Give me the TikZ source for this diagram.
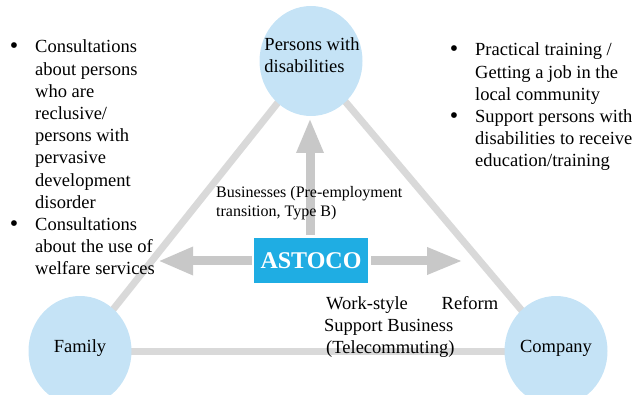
\documentclass[tikz,border=0pt]{standalone}
\usepackage{fontspec}
\setmainfont{Liberation Serif}
\usetikzlibrary{arrows.meta,shapes.geometric,backgrounds}
\definecolor{circfill}{HTML}{C5E3F6}
\definecolor{triline}{HTML}{D9D9D9}
\definecolor{arrgray}{HTML}{C8C8C8}
\definecolor{boxblue}{HTML}{1FADE3}
\begin{document}
\begin{tikzpicture}[x=1pt,y=-1pt,
  party/.style={ellipse,fill=circfill,minimum width=103pt,minimum height=110pt,inner sep=0pt},
  partytxt/.style={inner sep=0pt,font=\fontsize{18.5}{22.2}\selectfont,align=left},
  triedge/.style={draw=triline,line width=7pt},
  bigarrow/.style={draw=arrgray,line width=9pt},
  txt/.style={anchor=base west,inner sep=0pt,font=\fontsize{18.5}{22.2}\selectfont},
  smalltxt/.style={anchor=base west,inner sep=0pt,font=\fontsize{16}{19}\selectfont},
  bul/.style={anchor=base,inner sep=0pt,font=\fontsize{24}{22}\selectfont}]
\useasboundingbox (0,0) rectangle (634,395);

% parties
\node[party] (pwd) at (311,61) {};
\node[party] (fam) at (80,351) {};
\node[party] (com) at (556,351) {};
\node[partytxt] (pwdt) at (312,55) {Persons with\\disabilities};
\node[partytxt] (famt) at (80,348) {Family};
\node[partytxt] (comt) at (556,348) {Company};

\begin{scope}[on background layer]
\draw[triedge] (pwd.center) -- (fam.center);
\draw[triedge] (pwd.center) -- (com.center);
\draw[triedge] (fam.center) -- (com.center);
\end{scope}

% ASTOCO box
\node[fill=boxblue,text=white,minimum width=114pt,minimum height=45pt,inner sep=0pt,
  font=\fontsize{24}{28}\selectfont\bfseries] (astoco) at (311,260.5) {ASTOCO};

% arrows
\coordinate (uptip) at (310,118);
\coordinate (lefttip) at (158,261);
\coordinate (righttip) at (463,261);
\draw[bigarrow,-{Triangle[length=35pt,width=25pt]}] ([yshift=3pt]astoco.north -| uptip) -- (uptip);
\draw[bigarrow,-{Triangle[length=35pt,width=26pt]}] ([xshift=-2pt]astoco.west |- lefttip) -- (lefttip);
\draw[bigarrow,-{Triangle[length=36pt,width=25pt]}] ([xshift=3pt]astoco.east |- righttip) -- (righttip);

% left list
\node[bul] (lb1) at (14,54) {•};
\node[txt] (l1) at (35,53) {Consultations};
\node[txt] (l2) at (35,75.2) {about persons};
\node[txt] (l3) at (35,97.4) {who are};
\node[txt] (l4) at (35,119.6) {reclusive/};
\node[txt] (l5) at (35,141.8) {persons with};
\node[txt] (l6) at (35,164) {pervasive};
\node[txt] (l7) at (35,186.2) {development};
\node[txt] (l8) at (35,208.4) {disorder};
\node[bul] (lb2) at (14,231.6) {•};
\node[txt] (l9) at (35,230.6) {Consultations};
\node[txt] (l10) at (35,252.8) {about the use of};
\node[txt] (l11) at (35,275) {welfare services};

% right list
\node[bul] (rb1) at (454,57) {•};
\node[txt] (r1) at (475,56) {Practical training /};
\node[txt] (r2) at (475,78.2) {Getting a job in the};
\node[txt] (r3) at (475,100.4) {local community};
\node[bul] (rb2) at (454,123.6) {•};
\node[txt] (r4) at (475,122.6) {Support persons with};
\node[txt] (r5) at (475,144.8) {disabilities to receive};
\node[txt] (r6) at (475,167) {education/training};

% middle labels
\node[smalltxt] (b1) at (216,198) {Businesses (Pre-employment};
\node[smalltxt] (b2) at (216,217) {transition, Type B)};

\node[txt] (w1) at (326,309) {\makebox[172pt][s]{Work-style\hfill Reform}};
\node[txt] (w2) at (324,331) {Support Business};
\node[txt] (w3) at (326,353) {(Telecommuting)};
\end{tikzpicture}
\end{document}
